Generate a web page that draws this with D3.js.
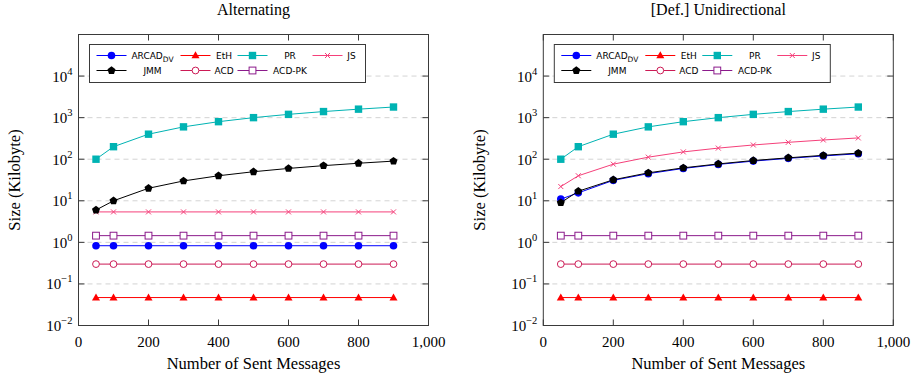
<!DOCTYPE html>
<html>
<head>
<meta charset="utf-8">
<script src="https://cdn.jsdelivr.net/npm/d3@7"></script>
<style>
  body { margin: 0; background: #fff; }
  svg text { font-family: "Liberation Serif", serif; }
  svg text.leg { font-family: "DejaVu Sans", sans-serif; }
</style>
</head>
<body>
<script>
// data

const messages = [50, 100, 200, 300, 400, 500, 600, 700, 800, 900];

const xTicks = [0, 200, 400, 600, 800, 1000];
const yTicks = [-2, -1, 0, 1, 2, 3, 4];

const altArcad = [0.83, 0.83, 0.83, 0.83, 0.83, 0.83, 0.83, 0.83, 0.83, 0.83];
const altEth = [0.047, 0.047, 0.047, 0.047, 0.047, 0.047, 0.047, 0.047, 0.047, 0.047];
const altPr = [100, 200, 400, 600, 800, 1000, 1200, 1400, 1600, 1800];
const altJs = [5.4, 5.4, 5.4, 5.4, 5.4, 5.4, 5.4, 5.4, 5.4, 5.4];
const altJmm = [6, 10, 20, 30, 40, 50, 60, 70, 80, 90];
const altAcd = [0.3, 0.3, 0.3, 0.3, 0.3, 0.3, 0.3, 0.3, 0.3, 0.3];
const altAcdPk = [1.45, 1.45, 1.45, 1.45, 1.45, 1.45, 1.45, 1.45, 1.45, 1.45];

const uniArcad = [11, 15.5, 31, 45, 60, 75, 90, 105, 120, 135];
const uniEth = [0.047, 0.047, 0.047, 0.047, 0.047, 0.047, 0.047, 0.047, 0.047, 0.047];
const uniPr = [100, 200, 400, 600, 800, 1000, 1200, 1400, 1600, 1800];
const uniJs = [22, 40, 76, 112, 150, 185, 220, 255, 290, 325];
const uniJmm = [9, 17, 32, 47, 62, 77, 93, 108, 124, 140];
const uniAcd = [0.3, 0.3, 0.3, 0.3, 0.3, 0.3, 0.3, 0.3, 0.3, 0.3];
const uniAcdPk = [1.45, 1.45, 1.45, 1.45, 1.45, 1.45, 1.45, 1.45, 1.45, 1.45];

const styles = {
  arcad: { name: "ARCAD", sub: "DV", color: "#0000ff", mark: "circle" },
  eth: { name: "EtH", color: "#ff0000", mark: "triangle" },
  pr: { name: "PR", color: "#00b3b3", mark: "square" },
  js: { name: "JS", color: "#f5407a", mark: "cross" },
  jmm: { name: "JMM", color: "#000000", mark: "pentagon" },
  acd: { name: "ACD", color: "#cc1a55", mark: "ocircle" },
  acdpk: { name: "ACD-PK", color: "#8b1a8b", mark: "osquare" }
};

const legendRows = [["arcad", "eth", "pr", "js"], ["jmm", "acd", "acdpk"]];

const panels = [
  { title: "Alternating", left: 78.5, series: { arcad: altArcad, eth: altEth, pr: altPr, js: altJs, jmm: altJmm, acd: altAcd, acdpk: altAcdPk },
    order: ["arcad", "eth", "pr", "js", "jmm", "acd", "acdpk"] },
  { title: "[Def.] Unidirectional", left: 543.3, series: { arcad: uniArcad, eth: uniEth, pr: uniPr, js: uniJs, jmm: uniJmm, acd: uniAcd, acdpk: uniAcdPk },
    order: ["arcad", "eth", "pr", "js", "jmm", "acd", "acdpk"] }
];

const width = 913, height = 379;
const plotW = 350, plotTop = 34.5, plotBottom = 325.5;

const svg = d3.select("body").append("svg")
    .attr("width", width)
    .attr("height", height);

function drawMark(g, kind, color, x, y) {
  if (kind === "circle") {
    g.append("circle").attr("cx", x).attr("cy", y).attr("r", 3.8).attr("fill", color);
  } else if (kind === "ocircle") {
    g.append("circle").attr("cx", x).attr("cy", y).attr("r", 3.4)
        .attr("fill", "white").attr("stroke", color).attr("stroke-width", 1);
  } else if (kind === "square") {
    g.append("rect").attr("x", x - 3.7).attr("y", y - 3.7).attr("width", 7.4).attr("height", 7.4).attr("fill", color);
  } else if (kind === "osquare") {
    g.append("rect").attr("x", x - 3.4).attr("y", y - 3.4).attr("width", 6.8).attr("height", 6.8)
        .attr("fill", "white").attr("stroke", color).attr("stroke-width", 1);
  } else if (kind === "triangle") {
    g.append("path").attr("d", d3.symbol(d3.symbolTriangle, 28)()).attr("transform", `translate(${x},${y + 0.5})`).attr("fill", color);
  } else if (kind === "pentagon") {
    const pts = d3.range(5).map(i => {
      const a = -Math.PI / 2 + i * 2 * Math.PI / 5;
      return [x + 4.2 * Math.cos(a), y + 4.2 * Math.sin(a)];
    });
    g.append("polygon").attr("points", pts.map(p => p.join(",")).join(" ")).attr("fill", color);
  } else if (kind === "cross") {
    g.append("path").attr("d", `M${x - 2.5},${y - 2.5}L${x + 2.5},${y + 2.5}M${x - 2.5},${y + 2.5}L${x + 2.5},${y - 2.5}`)
        .attr("stroke", color).attr("stroke-width", 1);
  }
}

panels.forEach(p => {
  const g = svg.append("g");

  const x = d3.scaleLinear().domain([0, 1000]).range([p.left, p.left + plotW]);
  const y = d3.scaleLog().domain([1e-2, 1e5]).range([plotBottom, plotTop]);

  // grid
  g.selectAll(".grid")
    .data(yTicks)
    .join("line")
      .attr("x1", p.left).attr("x2", p.left + plotW)
      .attr("y1", d => y(Math.pow(10, d))).attr("y2", d => y(Math.pow(10, d)))
      .attr("stroke", "#c8c8c8").attr("stroke-width", 0.8)
      .attr("stroke-dasharray", "5,4");

  // series
  p.order.forEach(key => {
    const st = styles[key];
    const vals = p.series[key];
    const pts = messages.map((m, i) => [x(m), y(vals[i])]);
    g.append("path")
        .attr("d", d3.line()(pts))
        .attr("fill", "none")
        .attr("stroke", st.color)
        .attr("stroke-width", 1);
    const mg = g.append("g");
    pts.forEach(pt => drawMark(mg, st.mark, st.color, pt[0], pt[1]));
  });

  // frame and ticks
  const frame = g.append("g").attr("stroke", "#3a3a3a").attr("stroke-width", 1);
  frame.append("rect")
      .attr("x", p.left).attr("y", plotTop)
      .attr("width", plotW).attr("height", plotBottom - plotTop)
      .attr("fill", "none");
  xTicks.forEach(t => {
    frame.append("line").attr("x1", x(t)).attr("x2", x(t)).attr("y1", plotBottom).attr("y2", plotBottom - 6);
    frame.append("line").attr("x1", x(t)).attr("x2", x(t)).attr("y1", plotTop).attr("y2", plotTop + 6);
  });
  yTicks.forEach(t => {
    const yy = y(Math.pow(10, t));
    frame.append("line").attr("x1", p.left).attr("x2", p.left + 6).attr("y1", yy).attr("y2", yy);
    frame.append("line").attr("x1", p.left + plotW).attr("x2", p.left + plotW - 6).attr("y1", yy).attr("y2", yy);
  });

  // tick labels
  g.selectAll(".xt")
    .data(xTicks)
    .join("text")
      .attr("x", d => x(d))
      .attr("y", plotBottom + 21)
      .attr("text-anchor", "middle")
      .attr("font-size", 15)
      .text(d => d3.format(",")(d));

  yTicks.forEach(t => {
    const tx = g.append("text")
        .attr("x", p.left - 6)
        .attr("y", y(Math.pow(10, t)) + 5.5)
        .attr("text-anchor", "end")
        .attr("font-size", 15);
    tx.append("tspan").text("10");
    tx.append("tspan").attr("dy", -7).attr("font-size", 10.5).text(t < 0 ? "\u2212" + (-t) : t);
  });

  // axis labels and title
  g.append("text")
      .attr("x", p.left + plotW / 2)
      .attr("y", 369)
      .attr("text-anchor", "middle")
      .attr("font-size", 16.5)
      .text("Number of Sent Messages");

  g.append("text")
      .attr("transform", `translate(${p.left - 58.5},${(plotTop + plotBottom) / 2}) rotate(-90)`)
      .attr("text-anchor", "middle")
      .attr("font-size", 16.5)
      .text("Size (Kilobyte)");

  g.append("text")
      .attr("x", p.left + plotW / 2)
      .attr("y", 15)
      .attr("text-anchor", "middle")
      .attr("font-size", 16)
      .text(p.title);

  // legend
  const lg = g.append("g").attr("transform", `translate(${p.left + 11},${plotTop + 10})`);
  lg.append("rect")
      .attr("width", 276).attr("height", 38)
      .attr("fill", "white").attr("stroke", "#3a3a3a").attr("stroke-width", 1);
  const colX = [7, 91, 148, 223];
  const textX = [63, 134.5, 200.5, 262];
  legendRows.forEach((row, r) => {
    row.forEach((key, c) => {
      const st = styles[key];
      const ly = 11 + r * 15;
      lg.append("line")
          .attr("x1", colX[c]).attr("x2", colX[c] + 30)
          .attr("y1", ly).attr("y2", ly)
          .attr("stroke", st.color).attr("stroke-width", 1);
      drawMark(lg, st.mark, st.color, colX[c] + 15, ly);
      const t = lg.append("text")
          .attr("class", "leg")
          .attr("x", textX[c])
          .attr("y", ly + 3.3)
          .attr("text-anchor", "middle")
          .attr("font-size", 9)
          .text(st.name);
      if (st.sub) {
        t.append("tspan").attr("dy", 3).attr("font-size", 7.5).text(st.sub);
      }
    });
  });
});
</script>
</body>
</html>
